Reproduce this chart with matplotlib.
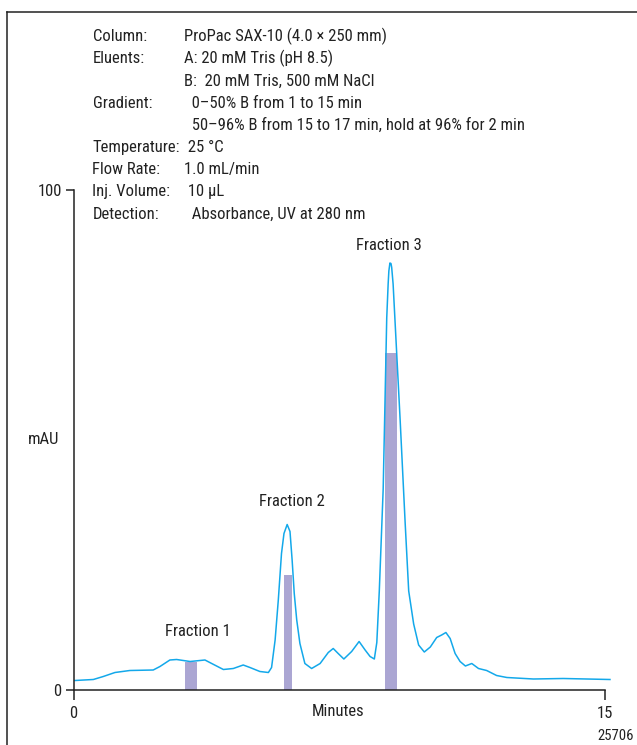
# Import Modules
import matplotlib
matplotlib.use("Agg")
import matplotlib.pyplot as plt
from matplotlib.lines import Line2D

# Chromatogram trace (minutes, mAU)
Minutes = [0.04, 0.56, 0.84, 1.17, 1.59, 2.25, 2.44, 2.72, 2.91, 3.29, 3.71, 3.90,
           4.23, 4.51, 4.79, 4.98, 5.26, 5.50, 5.59, 5.69, 5.78, 5.87, 5.94, 6.03,
           6.11, 6.17, 6.23, 6.30, 6.39, 6.53, 6.72, 6.96, 7.19, 7.33, 7.47, 7.63,
           7.85, 8.06, 8.23, 8.37, 8.49, 8.56, 8.63, 8.74, 8.80, 8.84, 8.88, 8.90,
           8.93, 8.96, 8.98, 9.02, 9.12, 9.22, 9.36, 9.46, 9.60, 9.74, 9.90, 10.07,
           10.25, 10.39, 10.51, 10.63, 10.77, 10.91, 11.06, 11.24, 11.43, 11.66,
           11.94, 12.23, 12.98, 13.82, 14.48, 15.14]
mAU = [1.9, 2.1, 2.7, 3.5, 3.9, 4.0, 4.7, 6.0, 6.1, 5.7, 6.0, 5.3,
       4.1, 4.3, 5.0, 4.5, 3.7, 3.5, 4.5, 10.0, 18.0, 27.3, 31.3, 33.1,
       31.7, 26.0, 19.3, 14.0, 9.3, 5.3, 4.3, 5.3, 7.5, 8.3, 7.3, 6.2,
       7.7, 9.7, 8.0, 6.7, 6.2, 9.5, 19.8, 40.2, 60.7, 74.4, 81.2, 83.8,
       85.4, 85.3, 84.5, 81.2, 67.5, 53.8, 33.4, 19.8, 13.2, 9.0, 7.6, 8.6,
       10.5, 11.0, 11.5, 10.3, 7.3, 5.7, 4.8, 5.3, 4.3, 3.9,
       2.9, 2.5, 2.2, 2.3, 2.2, 2.1]

# Collected fractions
Fraction_names = ["Fraction 1", "Fraction 2", "Fraction 3"]
Fraction_time = [3.31, 6.05, 8.96]
Fraction_width = [0.33, 0.23, 0.34]
Fraction_height = [5.7, 23.0, 67.5]

# Method conditions
Cond_labels = ["Column:", "Eluents:", "", "Gradient:", "", "Temperature:",
               "Flow Rate:", "Inj. Volume:", "Detection:"]
Cond_values = ["ProPac SAX-10 (4.0 \u00d7 250 mm)", "A: 20 mM Tris (pH 8.5)",
               "B:  20 mM Tris, 500 mM NaCl", "  0\u201350% B from 1 to 15 min",
               "  50\u201396% B from 15 to 17 min, hold at 96% for 2 min",
               " 25 \u00b0C", "1.0 mL/min", " 10 \u00b5L",
               "  Absorbance, UV at 280 nm"]

plt.rcParams["font.family"] = ["Roboto Condensed", "DejaVu Sans"]
fs = 12
W, H = 637, 745
ink = "#222222"


def fx(x):
    return x / W


def fy(y):
    return 1 - y / H


fig = plt.figure(figsize=(W / 100, H / 100), dpi=100)

# Frame around the figure (only left and top visible)
fig.add_artist(Line2D([fx(7), fx(7)], [fy(12), 0], transform=fig.transFigure,
                      color=ink, lw=1.1))
fig.add_artist(Line2D([fx(7), 1], [fy(12), fy(12)], transform=fig.transFigure,
                      color=ink, lw=1.1))

ax = fig.add_axes([fx(73.5), fy(690), (605 - 73.5) / W, 500 / H])

# Fraction bars then trace on top
ax.bar(Fraction_time, Fraction_height, width=Fraction_width, color="#ABA6D3",
       zorder=1)
ax.plot(Minutes, mAU, color="#13A8EA", lw=1.1, zorder=2, clip_on=False)

ax.set_xlim(0, 15)
ax.set_ylim(0, 100)
ax.set_xticks([0, 15])
ax.set_yticks([0, 100])
ax.tick_params(axis="x", length=7.5, width=1.1, labelsize=fs, pad=4,
               colors=ink)
ax.tick_params(axis="y", length=5.5, width=1.1, labelsize=fs, pad=3,
               colors=ink)
for s in ["top", "right"]:
    ax.spines[s].set_visible(False)
for s in ["left", "bottom"]:
    ax.spines[s].set_linewidth(1.1)
    ax.spines[s].set_color(ink)
ax.patch.set_alpha(0)

# Fraction labels
label_pos = [(3.52, 10.7), (6.17, 36.8), (8.89, 88.1)]
for name, (x, y) in zip(Fraction_names, label_pos):
    ax.text(x, y, name, ha="center", va="baseline", fontsize=fs, color=ink)

# Axis titles
fig.text(fx(43.5), fy(440), "mAU", ha="center", va="center", fontsize=fs,
         color=ink)
fig.text(fx(338), fy(712), "Minutes", ha="center", va="center", fontsize=fs,
         color=ink)
fig.text(fx(597), fy(736), "25706", ha="left", va="center", fontsize=10.5,
         color=ink)

# Conditions block
for i in range(len(Cond_labels)):
    base = 41 + 22.2 * i
    fig.text(fx(92.5), fy(base), Cond_labels[i], ha="left", va="baseline",
             fontsize=fs, color=ink)
    fig.text(fx(184), fy(base), Cond_values[i], ha="left", va="baseline",
             fontsize=fs, color=ink)

fig.savefig("out.png", dpi=100)
